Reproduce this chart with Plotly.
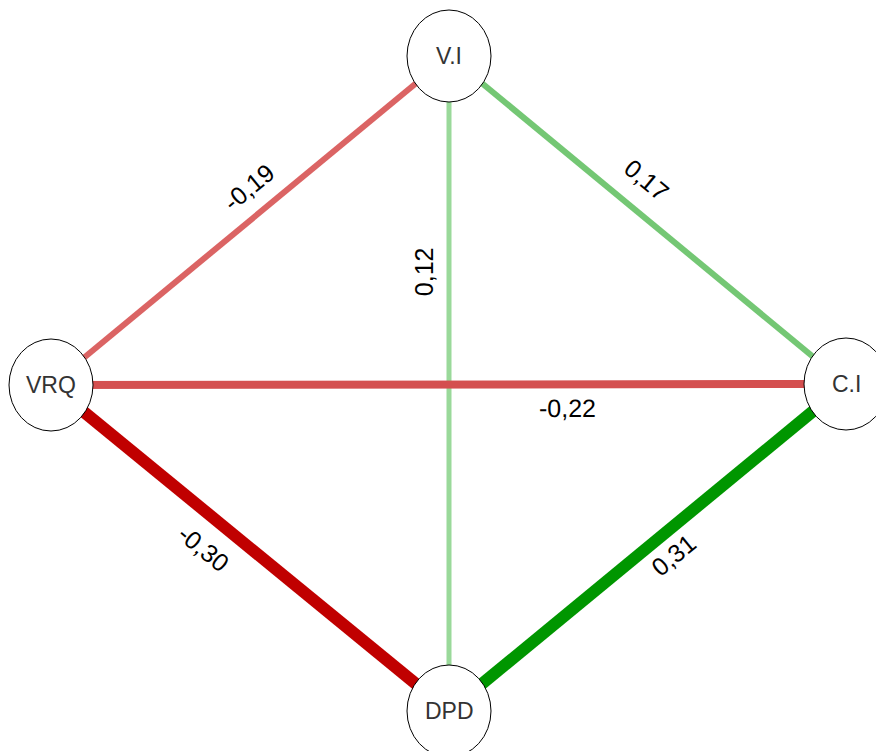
import math

import plotly.graph_objects as go

# nodes (pixel layout of the network)
nodes = ["V.I", "VRQ", "C.I", "DPD"]
node_x = [449, 51, 846, 449]
node_y = [56, 385, 384, 711]

# edges: from, to, weight
edge_from = ["VRQ", "V.I", "V.I", "VRQ", "VRQ", "C.I"]
edge_to = ["V.I", "C.I", "DPD", "C.I", "DPD", "DPD"]
edge_weight = [-0.19, 0.17, 0.12, -0.22, -0.30, 0.31]

_COL = {
    -0.19: "#DB6464",
    0.17: "#74C774",
    0.12: "#9AD99A",
    -0.22: "#D44F4F",
    -0.30: "#C00000",
    0.31: "#009600",
}
_WIDTH = {-0.19: 6, 0.17: 6, 0.12: 5, -0.22: 8, -0.30: 12, 0.31: 12}
# label placement: fraction along edge, perpendicular offset (px, sign picks side)
_LBL = {
    -0.19: (0.54, 27),
    0.17: (0.45, 30),
    0.12: (0.33, -25),
    -0.22: (0.65, -24),
    -0.30: (0.43, -30),
    0.31: (0.47, 22),
}

W, H = 876, 751
pos = {n: (x, y) for n, x, y in zip(nodes, node_x, node_y)}

fig = go.Figure()
annotations = []
for a, b, w in zip(edge_from, edge_to, edge_weight):
    (x0, y0), (x1, y1) = pos[a], pos[b]
    fig.add_trace(
        go.Scatter(
            x=[x0, x1], y=[y0, y1], mode="lines",
            line=dict(color=_COL[w], width=_WIDTH[w]),
            hoverinfo="skip", showlegend=False,
        )
    )
    t, off = _LBL[w]
    dx, dy = x1 - x0, y1 - y0
    L = math.hypot(dx, dy)
    ux, uy = dx / L, dy / L
    nx, ny = uy, -ux
    lx = x0 + dx * t + nx * off
    ly = y0 + dy * t + ny * off
    ang = math.degrees(math.atan2(dy, dx))
    if ang >= 90:
        ang -= 180
    elif ang < -90:
        ang += 180
    annotations.append(
        dict(
            x=lx, y=ly, text=f"{w:.2f}".replace(".", ","), showarrow=False,
            textangle=ang, font=dict(family="Liberation Sans, Arial", size=25, color="black"),
            xanchor="center", yanchor="middle",
        )
    )

shapes = []
for n, x, y in zip(nodes, node_x, node_y):
    shapes.append(
        dict(
            type="circle", layer="above", x0=x - 42, x1=x + 42, y0=y - 46, y1=y + 46,
            fillcolor="white", line=dict(color="black", width=1),
        )
    )
    annotations.append(
        dict(
            x=x, y=y, text=n, showarrow=False,
            font=dict(family="Liberation Sans, Arial", size=23, color="#333333"),
        )
    )

fig.update_layout(
    width=W, height=H,
    margin=dict(l=0, r=0, t=0, b=0),
    plot_bgcolor="white", paper_bgcolor="white",
    xaxis=dict(range=[0, W], visible=False, showgrid=False, zeroline=False),
    yaxis=dict(range=[H, 0], visible=False, showgrid=False, zeroline=False),
    shapes=shapes,
    annotations=annotations,
)
fig.write_html(
    "out.html",
    config={"displayModeBar": False},
    post_script="document.body.style.margin='0';document.body.style.overflow='hidden';",
)
